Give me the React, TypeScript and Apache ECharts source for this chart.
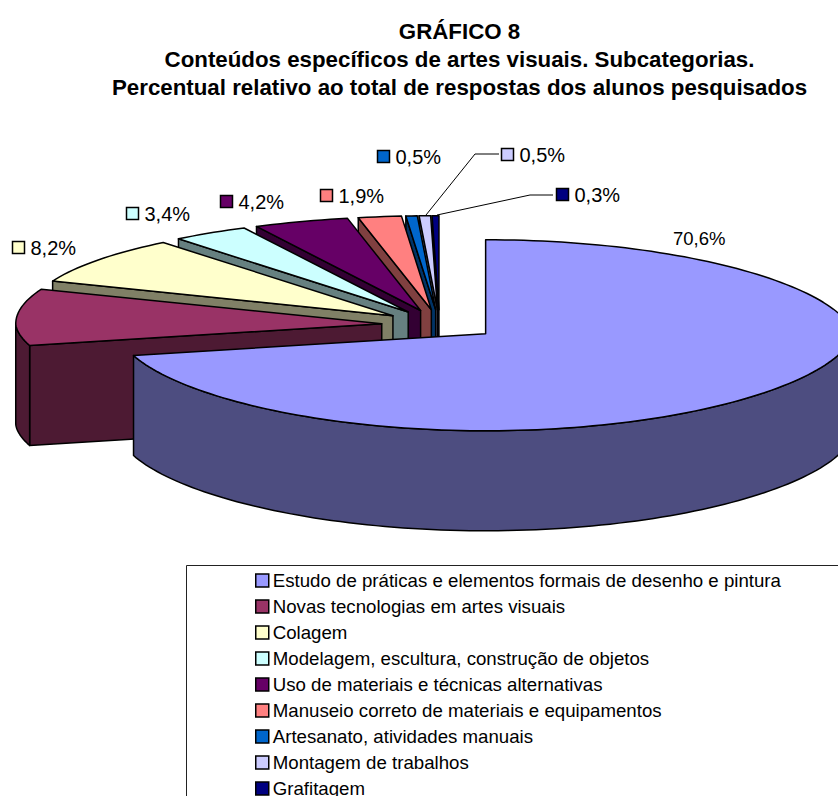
import React, { useEffect, useRef } from "react";
import * as echarts from "echarts";

const categories = [
  "Estudo de práticas e elementos formais de desenho e pintura",
  "Novas tecnologias em artes visuais",
  "Colagem",
  "Modelagem, escultura, construção de objetos",
  "Uso de materiais e técnicas alternativas",
  "Manuseio correto de materiais e equipamentos",
  "Artesanato, atividades manuais",
  "Montagem de trabalhos",
  "Grafitagem",
];
const values = [70.6, 10.4, 8.2, 3.4, 4.2, 1.9, 0.5, 0.5, 0.3];
const topColors = ["#9999FF", "#993366", "#FFFFCC", "#CCFFFF", "#660066", "#FF8080", "#0066CC", "#CCCCFF", "#000080"];
const sideColors = ["#4D4D80", "#4D1A33", "#808066", "#668080", "#330033", "#804040", "#003366", "#666680", "#000040"];
const titleLines = [
  "GRÁFICO 8",
  "Conteúdos específicos de artes visuais. Subcategorias.",
  "Percentual relativo ao total de respostas dos alunos pesquisados",
];

// Layout of the tilted pie
const CX = 439.5, CY = 324.5, RX = 366, RY_BACK = 94, RY_FRONT = 97, DEPTH = 100, EXPLODE = 0.158;
const FONT = "Liberation Sans, Arial, sans-serif";
const LABEL_SIZE = 20;

// Label anchors: marker left/top, null = no label, marker false = plain text
const labelAnchors: any[] = [
  { x: 673, y: 232, marker: false },
  null,
  { x: 12, y: 241, marker: true },
  { x: 126, y: 207, marker: true },
  { x: 220, y: 195, marker: true },
  { x: 320, y: 189, marker: true },
  { x: 377, y: 150, marker: true },
  { x: 501, y: 148, marker: true, leader: [[499, 154], [475, 154], [426, 215]] },
  { x: 556, y: 188, marker: true, leader: [[553, 195], [530, 195], [437, 215]] },
];

const total = values.reduce((a, b) => a + b, 0);
const rad = (d: number) => (d * Math.PI) / 180;

// Slight flattening of the drawn ellipse, as the source's perspective does
function rimY(deg: number) {
  const c = Math.cos(rad(deg));
  const m = deg <= 270 ? Math.pow(Math.abs(c), 1.15) : Math.abs(c);
  return c > 0 ? -RY_BACK * m : RY_FRONT * m;
}

function arcPts(ax: number, ay: number, a0: number, a1: number, dy = 0) {
  const n = Math.max(2, Math.ceil(Math.abs(a1 - a0) / 1.5));
  const pts: number[][] = [];
  for (let i = 0; i <= n; i++) {
    const deg = a0 + ((a1 - a0) * i) / n;
    pts.push([ax + RX * Math.sin(rad(deg)), ay + rimY(deg) + dy]);
  }
  return pts;
}

function renderSlice(index: number) {
  return () => {
    const start = (values.slice(0, index).reduce((a, b) => a + b, 0) / total) * 360;
    const end = start + (values[index] / total) * 360;
    const mid = rad((start + end) / 2);
    const ax = CX + EXPLODE * RX * Math.sin(mid);
    const ay = CY - EXPLODE * (Math.cos(mid) > 0 ? RY_BACK : RY_FRONT) * Math.cos(mid);
    const border = { stroke: "#000", lineWidth: 1.5, lineJoin: "round" };
    const children: any[] = [];
    const side = { fill: sideColors[index], ...border };

    if (start > 180 && start < 360) {
      const o = arcPts(ax, ay, start, start)[0];
      children.push({
        type: "polygon",
        shape: { points: [[ax, ay], o, [o[0], o[1] + DEPTH], [ax, ay + DEPTH]] },
        style: side,
      });
    }
    const f0 = Math.max(start, 90), f1 = Math.min(end, 270);
    if (f1 > f0) {
      const upper = arcPts(ax, ay, f0, f1);
      const lower = arcPts(ax, ay, f1, f0, DEPTH);
      children.push({ type: "polygon", shape: { points: [...upper, ...lower] }, style: side });
    }
    children.push({
      type: "polygon",
      shape: { points: [[ax, ay], ...arcPts(ax, ay, start, end)] },
      style: { fill: topColors[index], ...border },
    });

    const lab = labelAnchors[index];
    if (lab) {
      const text = values[index].toFixed(1).replace(".", ",") + "%";
      let tx = lab.x;
      if (lab.marker) {
        children.push({
          type: "rect",
          shape: { x: lab.x + 0.5, y: lab.y + 0.5, width: 12, height: 12 },
          style: { fill: topColors[index], stroke: "#000", lineWidth: 1.5 },
        });
        tx = lab.x + 18.5;
      }
      children.push({
        type: "text",
        style: {
          x: tx,
          y: lab.y + 6.5,
          text,
          fill: "#000",
          font: `${lab.marker ? LABEL_SIZE : 18.5}px ${FONT}`,
          textAlign: "left",
          textVerticalAlign: "middle",
        },
      });
      if (lab.leader) {
        children.push({
          type: "polyline",
          shape: { points: lab.leader },
          style: { fill: "none", stroke: "#000", lineWidth: 1 },
        });
      }
    }
    return { type: "group", children };
  };
}

export default function App() {
  const ref = useRef<HTMLDivElement>(null);
  useEffect(() => {
    const chart = echarts.init(ref.current!, undefined, { renderer: "svg" });
    chart.setOption({
      animation: false,
      backgroundColor: "#fff",
      title: {
        text: titleLines.join("\n"),
        left: 454.5,
        top: 12,
        textAlign: "center",
        textStyle: { fontFamily: FONT, fontSize: 22.3, fontWeight: "bold", color: "#000", lineHeight: 28 },
      },
      graphic: [
        {
          type: "rect",
          z: 0,
          shape: { x: 186.5, y: 565.5, width: 700, height: 300 },
          style: { fill: "#fff", stroke: "#222", lineWidth: 1 },
        },
      ],
      legend: {
        orient: "vertical",
        left: 255,
        top: 571,
        height: 400,
        itemWidth: 13,
        itemHeight: 13,
        itemGap: 7,
        padding: 0,
        selectedMode: false,
        textStyle: { fontFamily: FONT, fontSize: 18.67, color: "#000", padding: [0, 0, 0, -1] },
        data: categories.map((name, i) => ({
          name,
          icon: "rect",
          itemStyle: { color: topColors[i], borderColor: "#000", borderWidth: 1.5 },
        })),
      },
      series: categories.map((name, i) => ({
        type: "custom",
        name,
        coordinateSystem: "none",
        z: 10 + categories.length - i,
        itemStyle: { color: topColors[i] },
        renderItem: renderSlice(i),
        data: [values[i]],
        silent: true,
      })),
    });
    return () => chart.dispose();
  }, []);
  return <div ref={ref} style={{ position: "absolute", left: 0, top: 0, width: 838, height: 796 }} />;
}
